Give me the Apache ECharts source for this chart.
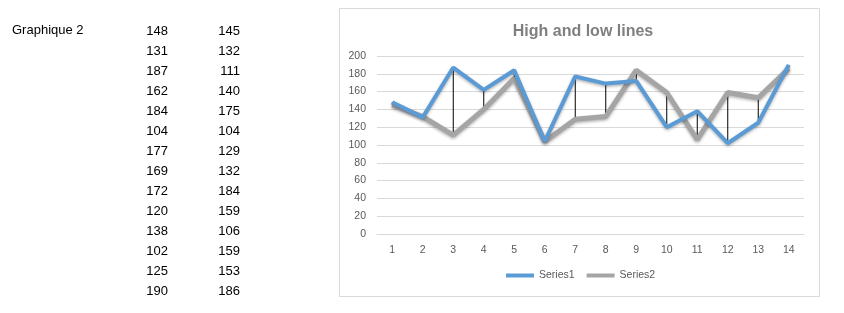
<!DOCTYPE html>
<html><head><meta charset="utf-8">
<script src="https://cdn.jsdelivr.net/npm/echarts@6/dist/echarts.min.js"></script>
<style>html,body{margin:0;padding:0;background:#fff}#c{width:844px;height:313px}</style>
</head><body><div id="c"></div>
<script>
var sheetLabel = 'Graphique 2';
var chartTitle = 'High and low lines';
var categories = ['1','2','3','4','5','6','7','8','9','10','11','12','13','14'];
var series1 = [148,131,187,162,184,104,177,169,172,120,138,102,125,190];
var series2 = [145,132,111,140,175,104,129,132,184,159,106,159,153,186];
var seriesNames = ['Series1','Series2'];
var yTicks = {min:0, max:200, interval:20};

var font = '"Liberation Sans", Arial, sans-serif';
var graphics = [
  {type:'rect', shape:{x:339.5,y:8.5,width:480,height:288}, style:{fill:'#fff',stroke:'#d9d9d9',lineWidth:1}, z:-10},
  {type:'text', left:12, top:24, style:{text:sheetLabel, font:'13px ' + font, fill:'#000'}}
];
for (var i=0;i<series1.length;i++){
  graphics.push({type:'text', x:168, y:31+20*i, style:{text:String(series1[i]), font:'13px '+font, fill:'#000', align:'right', verticalAlign:'middle'}});
  graphics.push({type:'text', x:240, y:31+20*i, style:{text:String(series2[i]), font:'13px '+font, fill:'#000', align:'right', verticalAlign:'middle'}});
}

var chart = echarts.init(document.getElementById('c'));
chart.setOption({
  animation:false,
  graphic: graphics,
  title:{text:chartTitle, left:578, textAlign:'center', top:19, textStyle:{fontFamily:font, fontSize:16, fontWeight:'bold', color:'#7f7f7f'}},
  grid:{left:377, right:40, top:56, bottom:79, containLabel:false},
  legend:{data:seriesNames, top:270, left:506, icon:'rect', itemWidth:28, itemHeight:4, itemGap:12,
          textStyle:{fontFamily:font, fontSize:10.5, color:'#595959'}, padding:0},
  xAxis:{type:'category', data:categories, boundaryGap:true,
         axisLine:{lineStyle:{color:'#d9d9d9'}}, axisTick:{show:false},
         axisLabel:{fontFamily:font, fontSize:10.5, color:'#595959', margin:11}},
  yAxis:{type:'value', min:yTicks.min, max:yTicks.max, interval:yTicks.interval,
         axisLine:{show:false}, axisTick:{show:false},
         splitLine:{lineStyle:{color:'#d9d9d9'}},
         axisLabel:{fontFamily:font, fontSize:10.5, color:'#595959', margin:11}},
  series:[
    {type:'custom', name:'hl', silent:true, z:1,
     data: categories.map(function(c,i){return [i, series1[i], series2[i]];}),
     encode:{x:0, y:[1,2]},
     renderItem:function(params, api){
       var a = api.coord([api.value(0), api.value(1)]);
       var b = api.coord([api.value(0), api.value(2)]);
       return {type:'line', shape:{x1:a[0],y1:a[1],x2:b[0],y2:b[1]}, style:{stroke:'#000', lineWidth:1}};
     }},
    {type:'line', name:seriesNames[1], data:series2, symbol:'none', z:2,
     lineStyle:{color:'#a5a5a5', width:5, shadowBlur:3, shadowColor:'rgba(0,0,0,0.3)', shadowOffsetY:1.5},
     itemStyle:{color:'#a5a5a5'}},
    {type:'line', name:seriesNames[0], data:series1, symbol:'none', z:3,
     lineStyle:{color:'#5b9bd5', width:4, shadowBlur:3, shadowColor:'rgba(0,0,0,0.3)', shadowOffsetY:1.5},
     itemStyle:{color:'#5b9bd5'}}
  ]
});
</script></body></html>
